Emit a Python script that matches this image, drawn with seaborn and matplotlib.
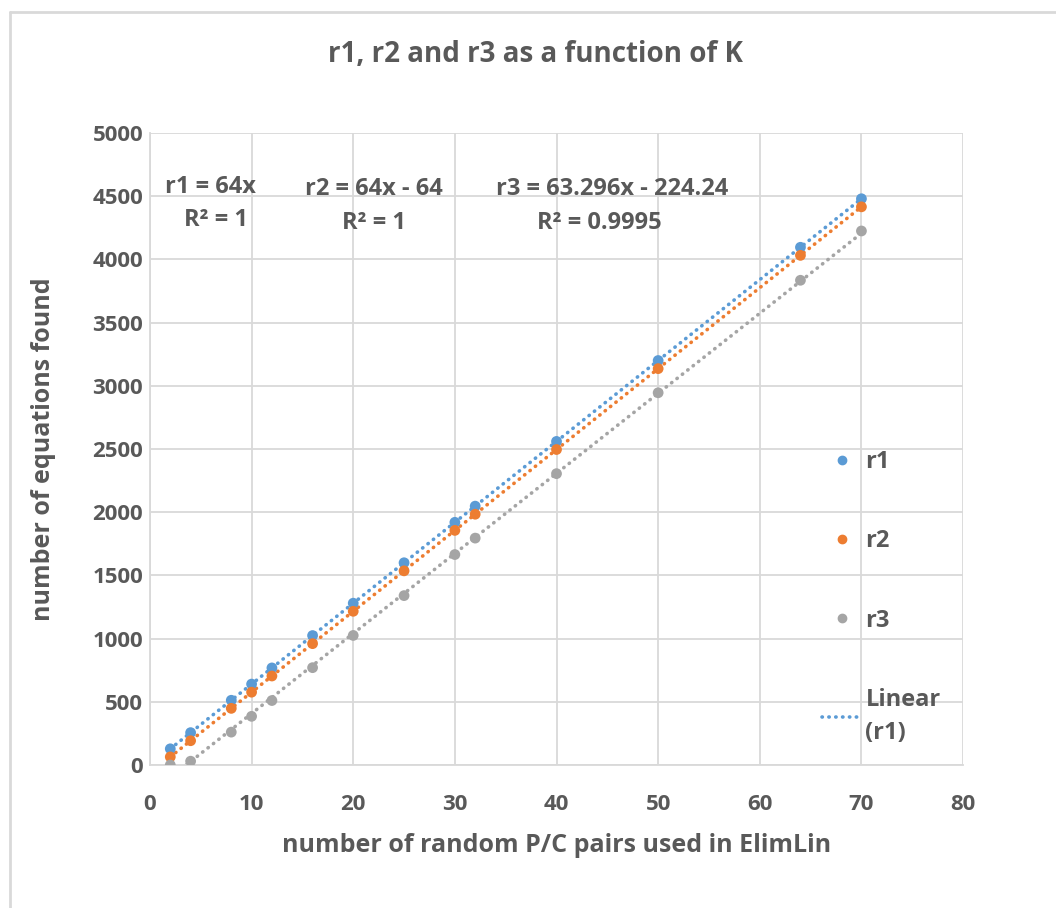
import numpy as np
import pandas as pd
import matplotlib
matplotlib.use("Agg")
import matplotlib.pyplot as plt
import seaborn as sns
from matplotlib import font_manager
from matplotlib.lines import Line2D

# values
k_values = [2, 4, 8, 10, 12, 16, 20, 25, 30, 32, 40, 50, 64, 70]
r1 = [128, 256, 512, 640, 768, 1024, 1280, 1600, 1920, 2048, 2560, 3200, 4096, 4480]
r2 = [64, 192, 448, 576, 704, 960, 1216, 1536, 1856, 1984, 2496, 3136, 4032, 4416]
r3 = [0, 30, 260, 385, 510, 770, 1025, 1340, 1665, 1795, 2305, 2945, 3835, 4225]
series_names = ["r1", "r2", "r3"]
colors = ["#5B9BD5", "#ED7D31", "#A5A5A5"]
equations = [("r1 = 64x", "R² = 1"),
             ("r2 = 64x - 64", "R² = 1"),
             ("r3 = 63.296x - 224.24", "R² = 0.9995")]

sns.set_theme(style="white")
available = {f.name for f in font_manager.fontManager.ttflist}
family = "Liberation Sans Narrow" if "Liberation Sans Narrow" in available else "Open Sans"
plt.rcParams["font.family"] = [family, "DejaVu Sans"]
text_color = "#595959"
grid_color = "#D9D9D9"

df = pd.DataFrame({"K": k_values, "r1": r1, "r2": r2, "r3": r3})
long_df = df.melt(id_vars="K", var_name="series", value_name="equations")

fig = plt.figure(figsize=(10.56, 9.08), dpi=100)
ax = fig.add_axes([0.142, 0.1575, 0.770, 0.696])

# dotted linear trendlines from a least-squares fit
dotted = (0, (0.1, 1.8))
for name, color in zip(series_names, colors):
    slope, intercept = np.polyfit(df["K"], df[name], 1)
    xs = np.array([min(k_values), max(k_values)])
    ax.plot(xs, slope * xs + intercept, color=color, lw=2.6,
            linestyle=dotted, dash_capstyle="round", zorder=2)

sns.scatterplot(data=long_df, x="K", y="equations", hue="series",
                palette=colors, s=60, edgecolor="none", ax=ax,
                legend=False, zorder=3)

ax.set_xlim(0, 80)
ax.set_ylim(0, 5000)
ax.set_xticks(range(0, 81, 10))
ax.set_yticks(range(0, 5001, 500))
ax.grid(True, color=grid_color, lw=1.3)
ax.set_axisbelow(True)
for side in ["top", "right"]:
    ax.spines[side].set_visible(False)
for side in ["left", "bottom"]:
    ax.spines[side].set_color(grid_color)
    ax.spines[side].set_linewidth(1.3)
ax.tick_params(length=0, labelsize=16, colors=text_color)
ax.tick_params(axis="x", pad=21)
ax.tick_params(axis="y", pad=5)
for lab in ax.get_xticklabels() + ax.get_yticklabels():
    lab.set_fontweight("bold")

ax.set_xlabel("number of random P/C pairs used in ElimLin", fontsize=18,
              fontweight="bold", color=text_color, labelpad=13)
ax.set_ylabel("number of equations found", fontsize=18,
              fontweight="bold", color=text_color, labelpad=26)
fig.text(0.507, 0.940, "r1, r2 and r3 as a function of K", ha="center",
         va="center", fontsize=20, fontweight="bold", color=text_color)

# trendline equations
eq_pos = [(6.0, 4575), (22.0, 4555), (45.5, 4555)]
r2_pos = [(6.5, 4310), (22.0, 4290), (44.2, 4290)]
for (eq, rsq), (ex, ey), (rx, ry) in zip(equations, eq_pos, r2_pos):
    ax.text(ex, ey, eq, ha="center", va="center", fontsize=17,
            fontweight="bold", color=text_color)
    ax.text(rx, ry, rsq, ha="center", va="center", fontsize=17,
            fontweight="bold", color=text_color)

handles = [Line2D([], [], marker="o", ls="none", color=c, markersize=6)
           for c in colors]
handles.append(Line2D([], [], color=colors[0], lw=2.6,
                      linestyle=dotted, dash_capstyle="round"))
labels = ["r1", "r2", "r3", "Linear\n(r1)"]
leg = ax.legend(handles, labels, loc="center left", bbox_to_anchor=(0.80, 0.265),
                frameon=False, fontsize=17, labelspacing=2.35,
                handlelength=1.7, handletextpad=0.15)
for t in leg.get_texts():
    t.set_color(text_color)
    t.set_fontweight("bold")
    t.set_linespacing(1.5)

# outer chart border (top and left edges visible in the reference)
fig.add_artist(Line2D([0.009, 1.0], [0.987, 0.987], color=grid_color, lw=2,
                      transform=fig.transFigure))
fig.add_artist(Line2D([0.009, 0.009], [0.0, 0.987], color=grid_color, lw=2,
                      transform=fig.transFigure))

fig.savefig("out.png", dpi=100, facecolor="white")
